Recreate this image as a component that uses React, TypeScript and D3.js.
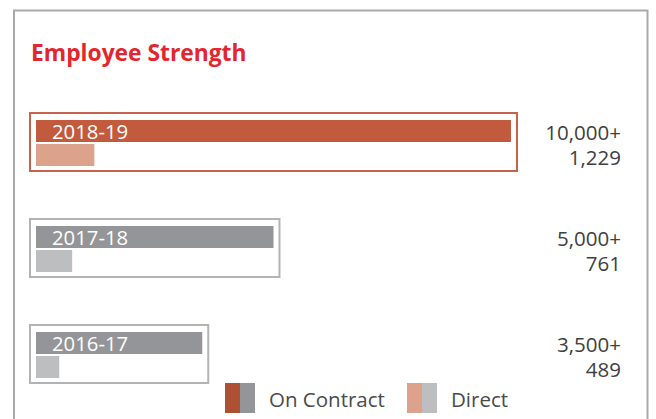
import React, { useEffect } from "react";
import * as d3 from "d3";

const years = ["2018-19", "2017-18", "2016-17"];
const onContract = [10000, 5000, 3500];
const direct = [1229, 761, 489];
const contractLabels = ["10,000+", "5,000+", "3,500+"];
const directLabels = ["1,229", "761", "489"];
const legendItems = ["On Contract", "Direct"];

const W = 656;
const H = 419;
const FONT = "'Open Sans', 'Noto Sans', sans-serif";

export default function App() {
  useEffect(() => {
    document.body.style.margin = "0";
  }, []);

  const x = d3.scaleLinear().domain([0, 10000]).range([0, 475]);
  const y = d3.scaleBand<string>().domain(years).range([113, 113 + 318]).paddingInner(0).paddingOuter(0);
  const x0 = 36;
  const barH = 22;

  const colors = (i: number) =>
    i === 0
      ? { c: "#c25b3e", d: "#dca28b", box: "#c9624a" }
      : { c: "#939598", d: "#bdbec0", box: "#b3b3b3" };

  return (
    <svg width={W} height={H} style={{ display: "block", position: "absolute", left: 0, top: 0 }}>
      <rect x={0} y={0} width={W} height={H} fill="#ffffff" />
      {/* outer frame */}
      <path d={`M14,${H + 2} L14,10.5 L647.5,10.5 L647.5,${H + 2}`} fill="none" stroke="#a9a9a9" strokeWidth={2} />
      <text x={31} y={61} fill="#e3262d" fontFamily={FONT} fontWeight={700} fontSize={22.8}>
        Employee Strength
      </text>
      {years.map((yr, i) => {
        const top = y(yr) as number;
        const col = colors(i);
        const wc = x(onContract[i]);
        const wd = x(direct[i]);
        return (
          <g key={yr}>
            <rect x={30} y={top} width={wc + 12} height={58} fill="none" stroke={col.box} strokeWidth={2} />
            <rect x={x0} y={top + 7} width={wc} height={barH} fill={col.c} />
            <rect x={x0} y={top + 31} width={wd} height={barH} fill={col.d} />
            <text x={52} y={top + 25.5} fill="#ffffff" fontFamily={FONT} fontSize={20.3}>
              {yr}
            </text>
            <text x={621} y={top + 27} textAnchor="end" fill="#404040" fontFamily={FONT} fontSize={20.5}>
              {contractLabels[i]}
            </text>
            <text x={621} y={top + 52} textAnchor="end" fill="#404040" fontFamily={FONT} fontSize={20.5}>
              {directLabels[i]}
            </text>
          </g>
        );
      })}
      {/* legend */}
      <g>
        <rect x={225} y={383} width={15} height={30} fill="#ae5033" />
        <rect x={240} y={383} width={15} height={30} fill="#939598" />
        <text x={269} y={407} fill="#4a4a4a" fontFamily={FONT} fontSize={20.5}>
          {legendItems[0]}
        </text>
        <rect x={407} y={383} width={15} height={30} fill="#dca28b" />
        <rect x={422} y={383} width={15} height={30} fill="#bdbec0" />
        <text x={451} y={407} fill="#4a4a4a" fontFamily={FONT} fontSize={20.5}>
          {legendItems[1]}
        </text>
      </g>
    </svg>
  );
}
